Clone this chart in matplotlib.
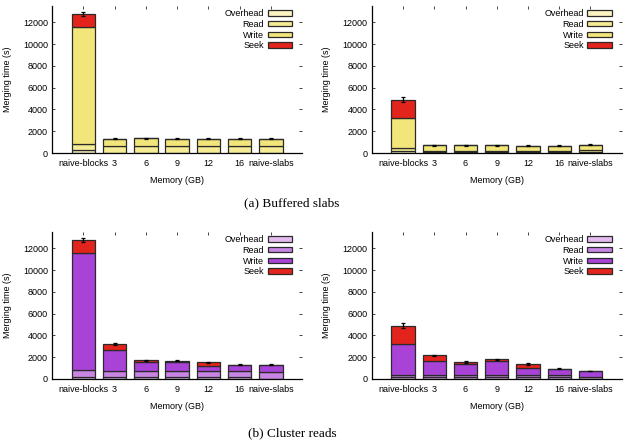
import matplotlib
matplotlib.use("Agg")
import matplotlib.pyplot as plt
import numpy as np

categories = ["naive-blocks", "3", "6", "9", "12", "16", "naive-slabs"]
components = ["Overhead", "Read", "Write", "Seek"]

# (a) Buffered slabs
a_left = {
    "Overhead": [250, 20, 20, 20, 20, 20, 20],
    "Read":     [600, 630, 640, 630, 630, 630, 630],
    "Write":    [10700, 680, 690, 680, 680, 680, 680],
    "Seek":     [1200, 0, 0, 0, 0, 0, 0],
}
a_left_err = [150, 20, 20, 20, 20, 20, 20]
a_right = {
    "Overhead": [180, 80, 80, 80, 80, 80, 80],
    "Read":     [250, 150, 150, 150, 150, 150, 170],
    "Write":    [2770, 470, 470, 460, 450, 450, 500],
    "Seek":     [1700, 0, 0, 0, 0, 0, 0],
}
a_right_err = [200, 20, 20, 20, 20, 20, 40]

# (b) Cluster reads
b_left = {
    "Overhead": [200, 170, 170, 170, 170, 170, 20],
    "Read":     [600, 550, 550, 550, 550, 550, 620],
    "Write":    [10750, 1910, 840, 870, 500, 590, 670],
    "Seek":     [1200, 570, 150, 90, 310, 0, 0],
}
b_left_err = [150, 60, 30, 30, 30, 20, 20]
b_right = {
    "Overhead": [180, 180, 180, 180, 180, 180, 180],
    "Read":     [190, 190, 190, 190, 190, 190, 0],
    "Write":    [2830, 1310, 1030, 1280, 670, 575, 550],
    "Seek":     [1700, 480, 160, 150, 300, 0, 0],
}
b_right_err = [200, 80, 50, 80, 100, 60, 30]

yellow = {"Overhead": "#fbf3c2", "Read": "#f6ec95", "Write": "#f2e67a", "Seek": "#e3241c"}
purple = {"Overhead": "#e4bdee", "Read": "#c985e3", "Write": "#a943d8", "Seek": "#e3241c"}

plt.rcParams["font.family"] = ["Liberation Sans", "DejaVu Sans"]

fig = plt.figure(figsize=(6.28, 4.43), dpi=100)

W = 0.398
H = 0.332
positions = [
    (0.083, 0.6546, a_left, a_left_err, yellow),
    (0.592, 0.6546, a_right, a_right_err, yellow),
    (0.083, 0.1445, b_left, b_left_err, purple),
    (0.592, 0.1445, b_right, b_right_err, purple),
]

x = np.arange(len(categories))
for (lx, by, data, err, cols) in positions:
    ax = fig.add_axes([lx, by, W, H])
    bottom = np.zeros(len(categories))
    handles = []
    for comp in components:
        vals = np.array(data[comp], dtype=float)
        b = ax.bar(x, vals, 0.75, bottom=bottom, color=cols[comp],
                   edgecolor="#2a2a2a", linewidth=0.9, label=comp, zorder=2)
        handles.append(b)
        bottom += vals
    ax.errorbar(x, bottom, yerr=err, fmt="none", ecolor="black",
                elinewidth=0.9, capsize=1.5, capthick=0.9, zorder=3)
    ax.set_xlim(-1, 7)
    ax.set_ylim(0, 13500)
    ax.set_yticks([0, 2000, 4000, 6000, 8000, 10000, 12000])
    ax.set_xticks(x)
    ax.set_xticklabels(categories)
    ax.tick_params(axis="both", labelsize=6.5, direction="in", length=2.5,
                   width=0.7, top=True, right=True, pad=3, color="#444444")
    ax.tick_params(axis="x", pad=4)
    for s in ["top", "right"]:
        ax.spines[s].set_visible(False)
    for s in ["left", "bottom"]:
        ax.spines[s].set_linewidth(0.9)
    ax.set_ylabel("Merging time (s)", fontsize=6.5, labelpad=8)
    ax.set_xlabel("Memory (GB)", fontsize=6.5, labelpad=6)
    leg = ax.legend(handles, components, loc="upper right",
                    bbox_to_anchor=(0.985, 1.02), frameon=False, markerfirst=False,
                    fontsize=6.5, handlelength=2.7, handleheight=0.55,
                    labelspacing=0.18, handletextpad=0.4, borderaxespad=0.3)
    for t in leg.get_texts():
        t.set_ha("right")

fig.text(0.465, 0.54, "(a) Buffered slabs", ha="center", va="center",
         fontsize=9.5, family=["Liberation Serif", "DejaVu Serif"])
fig.text(0.465, 0.022, "(b) Cluster reads", ha="center", va="center",
         fontsize=9.5, family=["Liberation Serif", "DejaVu Serif"])

fig.savefig("out.png", dpi=100)
